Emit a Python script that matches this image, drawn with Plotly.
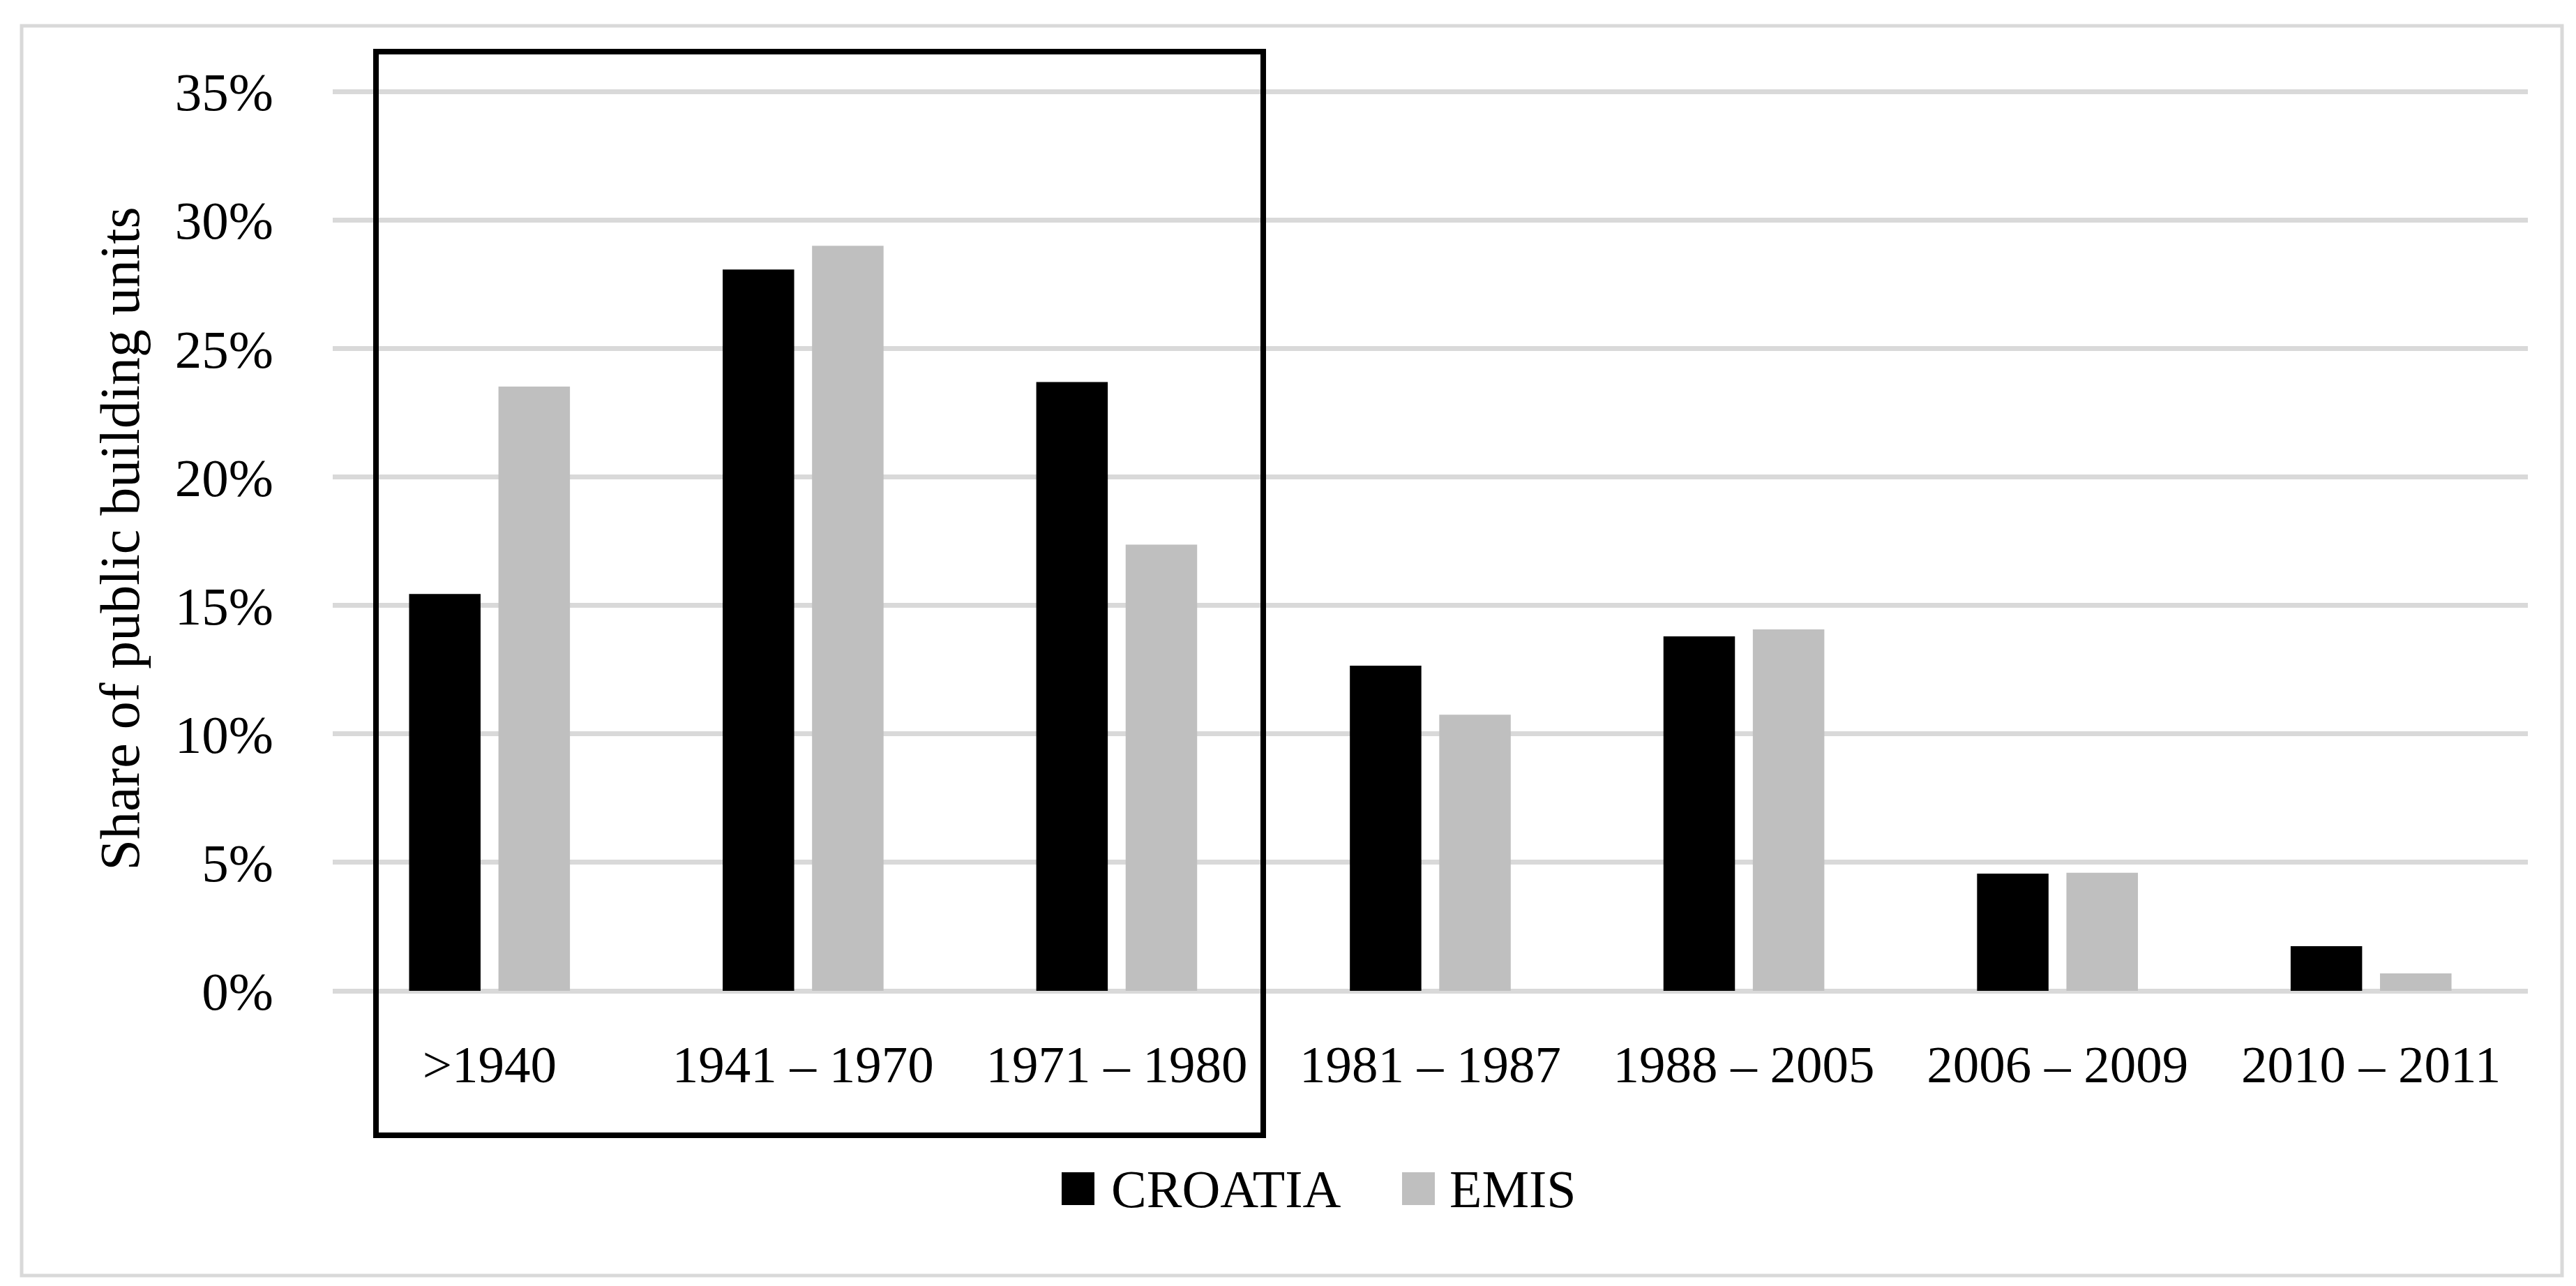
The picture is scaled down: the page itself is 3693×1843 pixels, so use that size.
import plotly.graph_objects as go

categories = [">1940", "1941 – 1970", "1971 – 1980", "1981 – 1987", "1988 – 2005", "2006 – 2009", "2010 – 2011"]
croatia = [0.1545, 0.2808, 0.2370, 0.1266, 0.1380, 0.0456, 0.0174]
emis = [0.2352, 0.2900, 0.1737, 0.1075, 0.1407, 0.0460, 0.0068]
series_names = ["CROATIA", "EMIS"]
series_colors = ["#000000", "#bfbfbf"]
y_ticks = [0, 0.05, 0.10, 0.15, 0.20, 0.25, 0.30, 0.35]
y_title = "Share of public building units"

FONT = "Liberation Serif"
W, H = 3693, 1843
L, R, T, B = 469, 77, 116, 431

fig = go.Figure()
for name, vals, col in zip(series_names, [croatia, emis], series_colors):
    fig.add_trace(go.Bar(x=categories, y=vals, name=name, marker_color=col,
                         marker_line_width=0, showlegend=False))

pw = W - L - R
ph = H - T - B

def px_x(x):
    return (x - L) / pw

def px_y(y):
    return (H - B - y) / ph

shapes = []
# outer frame
shapes.append(dict(type="rect", xref="paper", yref="paper",
                   x0=px_x(23), x1=px_x(3665), y0=px_y(1820), y1=px_y(29),
                   line=dict(color="#d9d9d9", width=5), layer="below"))
# highlight box
shapes.append(dict(type="rect", xref="paper", yref="paper",
                   x0=px_x(531), x1=px_x(1803), y0=px_y(1619), y1=px_y(66),
                   line=dict(color="#000000", width=8)))

# manual legend
annotations = []
legend_items = [(1514, 1583), (2002, 2068)]
for (sx, tx), name, col in zip(legend_items, series_names, series_colors):
    shapes.append(dict(type="rect", xref="paper", yref="paper",
                       x0=px_x(sx), x1=px_x(sx + 47), y0=px_y(1719), y1=px_y(1672),
                       fillcolor=col, line=dict(width=0)))
    annotations.append(dict(xref="paper", yref="paper", x=px_x(tx), y=px_y(1696),
                            text=name, showarrow=False, xanchor="left", yanchor="middle",
                            font=dict(family=FONT, size=76, color="#000000")))

fig.update_layout(
    width=W, height=H,
    margin=dict(l=L, r=R, t=T, b=B, autoexpand=False),
    paper_bgcolor="white", plot_bgcolor="white",
    barmode="group", bargap=0.43, bargroupgap=0.2,
    font=dict(family=FONT, size=75, color="#000000"),
    shapes=shapes, annotations=annotations,
    showlegend=False,
)
fig.update_yaxes(range=[0, 0.352], tickmode="array", tickvals=y_ticks, tickformat=".0%",
                 showgrid=True, gridcolor="#d9d9d9", gridwidth=7,
                 zeroline=True, zerolinecolor="#d9d9d9", zerolinewidth=7,
                 showline=False, ticks="", ticklabelstandoff=84,
                 tickfont=dict(family=FONT, size=77),
                 title=dict(text=y_title, font=dict(family=FONT, size=80), standoff=24))
fig.update_xaxes(showgrid=False, showline=False, ticks="", ticklabelstandoff=55,
                 tickfont=dict(family=FONT, size=75))

fig.write_html("out.html")
